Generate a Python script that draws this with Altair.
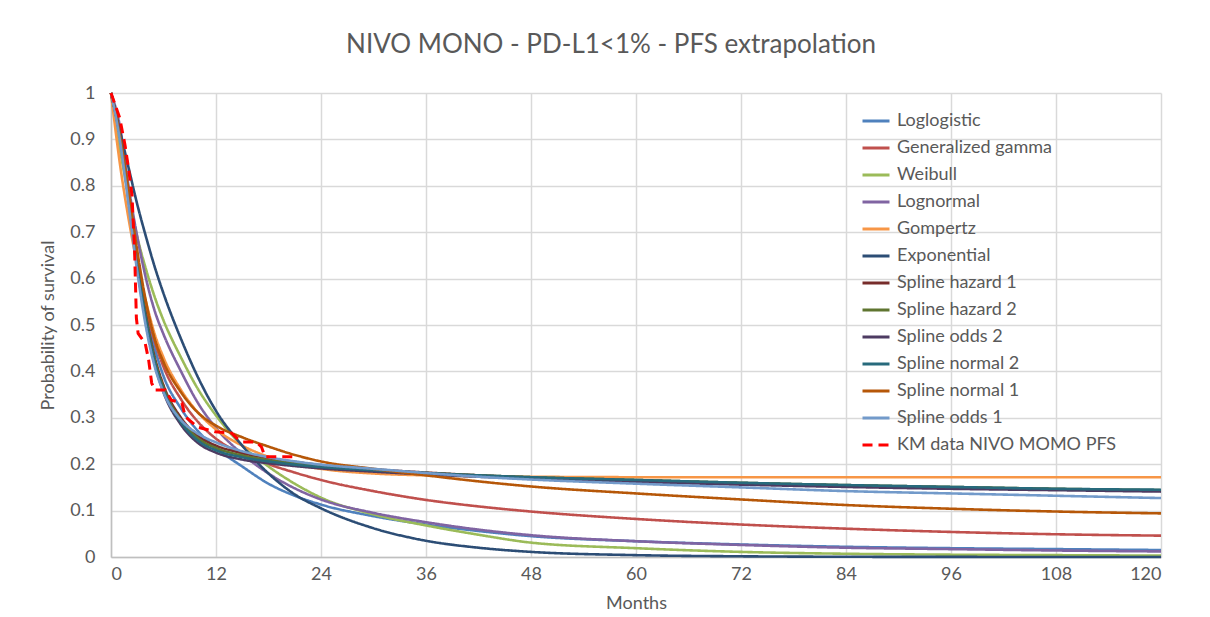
import altair as alt
import pandas as pd

# ---- data ----
months = [0, 1, 2, 3, 4, 5, 6, 8, 10, 12, 15, 18, 21, 24, 30, 36, 42, 48, 60, 72, 84, 96, 108, 120]

loglogistic = [1, 0.91, 0.78, 0.64, 0.53, 0.45, 0.39, 0.32, 0.27, 0.235, 0.195, 0.158, 0.132, 0.113, 0.088, 0.07, 0.056, 0.045, 0.034, 0.027, 0.022, 0.019, 0.017, 0.015]
generalized_gamma = [1, 0.91, 0.78, 0.645, 0.54, 0.465, 0.41, 0.34, 0.29, 0.255, 0.222, 0.2, 0.182, 0.166, 0.142, 0.123, 0.109, 0.098, 0.082, 0.07, 0.061, 0.054, 0.049, 0.046]
weibull = [1, 0.88, 0.78, 0.69, 0.62, 0.56, 0.51, 0.43, 0.36, 0.305, 0.24, 0.195, 0.158, 0.128, 0.092, 0.068, 0.048, 0.031, 0.019, 0.011, 0.007, 0.005, 0.004, 0.003]
lognormal = [1, 0.93, 0.8, 0.69, 0.6, 0.53, 0.48, 0.4, 0.33, 0.278, 0.222, 0.18, 0.148, 0.124, 0.095, 0.075, 0.059, 0.047, 0.034, 0.026, 0.02, 0.017, 0.014, 0.012]
gompertz = [1, 0.85, 0.73, 0.63, 0.55, 0.48, 0.43, 0.36, 0.31, 0.275, 0.24, 0.216, 0.2, 0.19, 0.18, 0.176, 0.174, 0.173, 0.172, 0.172, 0.172, 0.172, 0.172, 0.172]
exponential = [1, 0.92, 0.84, 0.76, 0.69, 0.625, 0.568, 0.47, 0.385, 0.315, 0.24, 0.18, 0.135, 0.105, 0.062, 0.035, 0.02, 0.011, 0.004, 0.0015, 0.0005, 0.0002, 0.0001, 0.0]
spline_hazard_1 = [1, 0.91, 0.78, 0.64, 0.52, 0.43, 0.37, 0.3, 0.26, 0.24, 0.224, 0.213, 0.205, 0.198, 0.189, 0.182, 0.176, 0.171, 0.165, 0.159, 0.154, 0.15, 0.146, 0.143]
spline_hazard_2 = [1, 0.91, 0.78, 0.635, 0.515, 0.425, 0.365, 0.295, 0.255, 0.235, 0.219, 0.209, 0.201, 0.195, 0.187, 0.181, 0.176, 0.172, 0.166, 0.16, 0.155, 0.151, 0.147, 0.144]
spline_odds_2 = [1, 0.91, 0.77, 0.625, 0.505, 0.415, 0.355, 0.285, 0.245, 0.225, 0.21, 0.202, 0.196, 0.191, 0.184, 0.178, 0.173, 0.169, 0.162, 0.156, 0.151, 0.147, 0.144, 0.141]
spline_normal_2 = [1, 0.91, 0.775, 0.63, 0.51, 0.42, 0.36, 0.29, 0.25, 0.23, 0.215, 0.206, 0.199, 0.194, 0.187, 0.181, 0.176, 0.172, 0.166, 0.16, 0.155, 0.151, 0.147, 0.145]
spline_normal_1 = [1, 0.91, 0.79, 0.66, 0.55, 0.47, 0.42, 0.355, 0.31, 0.283, 0.258, 0.238, 0.22, 0.206, 0.19, 0.176, 0.163, 0.152, 0.137, 0.124, 0.112, 0.104, 0.098, 0.094]
spline_odds_1 = [1, 0.9, 0.76, 0.615, 0.495, 0.41, 0.355, 0.295, 0.265, 0.247, 0.228, 0.215, 0.206, 0.199, 0.19, 0.181, 0.173, 0.167, 0.158, 0.15, 0.142, 0.137, 0.132, 0.127]

km_months = [0, 1.0, 1.6, 2.0, 2.4, 2.7, 2.9, 3.1, 3.9, 4.3, 4.65, 5.0, 6.2, 6.9, 8.1, 8.5, 9.9, 11.9, 13.8, 14.4, 15.1, 16.6, 17.2, 17.6, 21.4]
km_surv = [1, 0.946, 0.888, 0.838, 0.78, 0.657, 0.515, 0.482, 0.461, 0.425, 0.375, 0.36, 0.36, 0.338, 0.332, 0.302, 0.28, 0.27, 0.267, 0.256, 0.248, 0.248, 0.237, 0.216, 0.216]

series_names = ["Loglogistic", "Generalized gamma", "Weibull", "Lognormal", "Gompertz",
                "Exponential", "Spline hazard 1", "Spline hazard 2", "Spline odds 2",
                "Spline normal 2", "Spline normal 1", "Spline odds 1"]
series_values = [loglogistic, generalized_gamma, weibull, lognormal, gompertz, exponential,
                 spline_hazard_1, spline_hazard_2, spline_odds_2, spline_normal_2,
                 spline_normal_1, spline_odds_1]
km_name = "KM data NIVO MOMO PFS"

colors = ["#4F81BD", "#C0504D", "#9BBB59", "#8064A2", "#F79646", "#2C4D75",
          "#772C2A", "#5F7530", "#4D3B62", "#276A7C", "#B65708", "#729ACA", "#FF0000"]

x_ticks = [0, 12, 24, 36, 48, 60, 72, 84, 96, 108, 120]
y_ticks = [0, 0.1, 0.2, 0.3, 0.4, 0.5, 0.6, 0.7, 0.8, 0.9, 1.0]

# ---- build tables ----
rows = []
for i, (name, vals) in enumerate(zip(series_names, series_values)):
    for t, v in zip(months, vals):
        rows.append({"Months": t, "S": v, "Series": name, "order": i})
curves = pd.DataFrame(rows)
km = pd.DataFrame({"Months": km_months, "S": km_surv, "Series": km_name, "order": 12})

domain = series_names + [km_name]
dashes = [[1, 0]] * 12 + [[10, 6]]

font = "Lato"
grey = "#595959"


def make_legend():
    return alt.Legend(title=None, orient="none", legendX=750, legendY=13,
                      symbolType="stroke", symbolSize=729, symbolStrokeWidth=3,
                      labelFontSize=18, labelFont=font, labelColor=grey, rowPadding=3,
                      labelOffset=6, labelLimit=400)


color_enc = alt.Color("Series:N", scale=alt.Scale(domain=domain, range=colors),
                      sort=domain, legend=make_legend())
dash_enc = alt.StrokeDash("Series:N", scale=alt.Scale(domain=domain, range=dashes),
                          sort=domain, legend=make_legend())

x_enc = alt.X("Months:Q", scale=alt.Scale(domain=[0, 120], nice=False),
              axis=alt.Axis(values=x_ticks, title="Months"))
y_enc = alt.Y("S:Q", scale=alt.Scale(domain=[0, 1], nice=False),
              axis=alt.Axis(values=y_ticks, format=".1~f", title="Probability of survival"))

lines = alt.Chart(curves).mark_line(interpolate="monotone", strokeWidth=2.6).encode(
    x=x_enc, y=y_enc, color=color_enc, strokeDash=dash_enc, detail="Series:N",
    order=alt.Order("order:Q"))

km_line = alt.Chart(km).mark_line(strokeWidth=3).encode(
    x=x_enc, y=y_enc, color=color_enc, strokeDash=dash_enc)

chart = alt.layer(lines, km_line).properties(
    width=1050, height=464,
    autosize=alt.AutoSizeParams(type="none"),
    padding={"left": 103, "top": 85, "right": 41, "bottom": 56},
    title=alt.TitleParams("NIVO MONO - PD-L1<1% - PFS extrapolation", fontSize=26,
                          font=font, fontWeight="normal", color=grey, offset=26, dx=-25),
).configure_view(stroke=None).configure_axis(
    grid=True, gridColor="#D9D9D9", gridWidth=1.5, domainColor="#BFBFBF", domainWidth=1.5,
    ticks=False, labelFont=font, labelFontSize=18, labelColor=grey,
    titleFont=font, titleFontSize=18, titleFontWeight="normal", titleColor=grey,
).configure_axisX(labelPadding=8, titlePadding=11).configure_axisY(labelPadding=16, titlePadding=12)

chart.save("out.html", embed_options={"renderer": "svg", "actions": False})
